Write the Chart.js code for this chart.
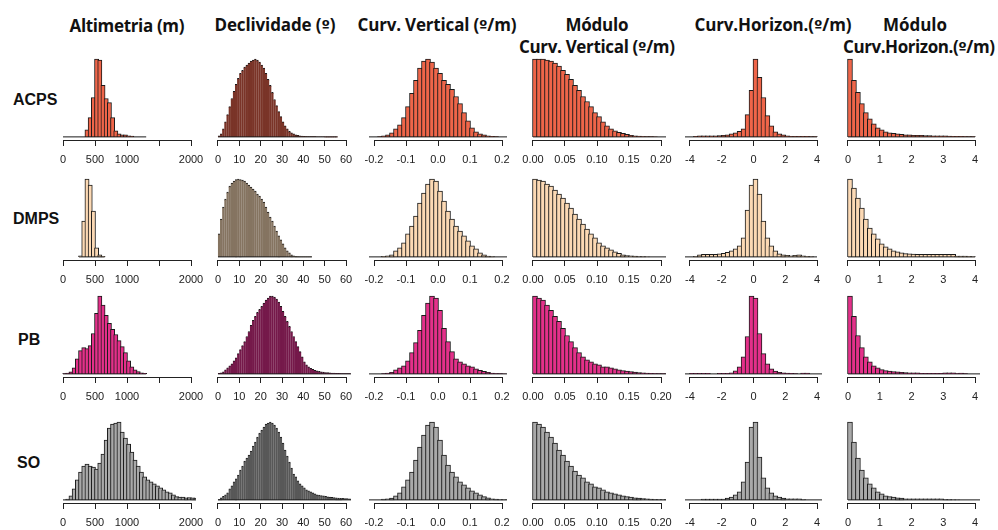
<!DOCTYPE html>
<html><head><meta charset="utf-8">
<script src="https://cdn.jsdelivr.net/npm/chart.js@4.4.1/dist/chart.umd.min.js"></script>
<style>
html,body{margin:0;padding:0;background:#fff;}
body{width:998px;height:530px;position:relative;overflow:hidden;}
canvas{position:absolute;}
.t{position:absolute;font-family:'Open Sans',Lato,sans-serif;font-weight:700;font-size:17px;color:#111;white-space:nowrap;line-height:1;}
.t .o{font-family:'DejaVu Sans',sans-serif;font-size:15px;}
.r{position:absolute;font-family:'Liberation Sans',Arial,sans-serif;font-weight:700;font-size:16px;color:#111;white-space:nowrap;transform:translateY(-50%);line-height:1;}
</style></head><body>
<script>
// ---------------- DATA ----------------
const rowNames = ['ACPS','DMPS','PB','SO'];
const columnTitles = [['Altimetria (m)'],['Declividade (º)'],['Curv. Vertical (º/m)'],['Módulo','Curv. Vertical (º/m)'],['Curv.Horizon.(º/m)'],['Módulo','Curv.Horizon.(º/m)']];

// tick values and labels per column
const altTicks = [0,500,1000,1500,2000];     const altTickLabels = ['0','500','1000','','2000'];
const declTicks = [0,10,20,30,40,50,60];     const declTickLabels = ['0','10','20','30','40','50','60'];
const cvTicks = [-0.2,-0.1,0,0.1,0.2];       const cvTickLabels = ['-0.2','-0.1','0.0','0.1','0.2'];
const mcvTicks = [0,0.05,0.1,0.15,0.2];      const mcvTickLabels = ['0.00','0.05','0.10','0.15','0.20'];
const chTicks = [-4,-2,0,2,4];               const chTickLabels = ['-4','-2','0','2','4'];
const mchTicks = [0,1,2,3,4];                const mchTickLabels = ['0','1','2','3','4'];

// histogram bin widths and first-bin starts (per row)
const altBinW = 50;      const altStarts = [0,250,0,0];
const declBinW = 1;      const declStarts = [0,0,0,0];
const cvBinW = 0.0125;   const cvStarts = [-0.25,-0.25,-0.25,-0.25];
const mcvBinW = 0.00625; const mcvStarts = [0,0,0,0];
const chBinW = 0.25;     const chStarts = [-4.5,-4.5,-4.5,-4.5];
const mchBinW = 0.125;   const mchStarts = [0,0,0,0];

// bin heights (relative frequencies)
const alt_ACPS = [0,0,0,0,0,0,0,7,19,39,77,76,51,38,34,19,6,3,2,2,1,0.7,0,0,0,0];
const alt_DMPS = [1,36,78,72,46,9,2,0.5];
const alt_PB   = [0.3,0.7,2,6,15,23,26,25,28,40,60,77,68,58,50,44,39,33,27,21,13,7,4,2.3,1,0.5];
const alt_SO   = [0,0.7,4,11,20,28,34,36,34,33,31,37,46,60,72,76,77,78,68,62,56,48,40,34,28,23,20,18,16,14,12,10,8,7,5,3.3,2.7,2.7,2,2.3,2,1.7,1.5,1];

const decl_ACPS = [1,3,8,15,22,30,38,45,52,58,63,66,69,71,73,75,76,77,76,74,71,68,63,57,51,44,37,31,25,20,15,11,8,5.5,4,3,2,1.5,1,0.8,0.5,0.4,0.3,0.2,0.2,0.2,0.1,0.1,0.1,0.1,0,0,0,0,0,0];
const decl_DMPS = [23,38,50,58,65,71,74,76,77.5,78,77.5,77,76,74,72,70,68,66,63,61,58,55,50,45,40,36,31,26,21,17,13,9,6,4,2,1,0.5,0.4,0.3,0.3,0.2,0.2,0.2,0.2];
const decl_PB   = [0.5,1,2,4,6,8,10,13,16,20,24,28,32,37,42,48,53,57,61,64,67,70,73,75,77,77,76,74,71,67,62,57,52,47,42,37,32,27,22,17,12,9,7,5.5,4.5,3.5,3,2.5,2,1.7,1.4,1.2,1,0.8,0.7,0.6,0.5,0.4,0.3,0.3,0.2,0.2,0.1,0.1];
const decl_SO   = [0.5,2,3.5,5,7,11,14,18,21,25,30,34,39,42,45,49,54,58,63,67,70,73,76,77,78,77,75,72,68,63,57,50,44,38,32,26,23,19,16,14,12,10,9,8,7,6,5,4.7,4.3,4,3.5,3,2.7,2.5,2.3,2,1.8,1.6,1.5,1.3,1.2,1,1,0.8];

const cv_ACPS = [0,0,0,0, 0,0.3,1,2,4,8,12,19,30,43,56,68,75,77,74,68,63,56,52,47,40,33,24,16,9,5,3,2,1,0.5,0.3,0, 0,0,0,0];
const cv_DMPS = [0,0,0,0, 0,0,0.5,1,2,6,9,14,23,31,41,54,64,73,78,76,66,56,46,38,31,26,21,16,11,8,4,2,0.7,0.3,0,0, 0,0,0,0];
const cv_PB   = [0,0,0,0, 0,0,0.3,0.7,1.5,4,6,8,13,21,31,43,58,70,77,75,63,45,32,22,15,12,10,8,7,5,3.5,2.5,1.5,0.8,0.4,0.2, 0.1,0,0,0];
const cv_SO   = [0,0,0,0, 0,0,0.7,1,1.7,4,7,13,20,28,40,53,65,75,78,73,60,45,35,28,23,18,15,12,9,7,5,3.3,2,1,0.7,0.3, 0.2,0,0,0];

const mcv_ACPS = [77,77,77,76,75,73,70,66,62,57,51,46,40,35,30,24,20,15,11,8,6,4.5,3.5,2.5,1.5,1,0.7,0.4,0.2,0.2,0.1,0,0,0,0,0];
const mcv_DMPS = [78,77,76,73,71,67,63,59,54,49,43,38,33,28,23,19,14,11,9,7,5,3.5,2,1.3,1,0.7,0.3,0.2,0.1,0,0,0,0,0,0,0];
const mcv_PB   = [77,75,73,68,63,57,52,45,38,32,26,21,17,14,12,10,9,7,7,6,5,4,3.3,2.7,2.3,1.7,1.3,1,0.7,0.5,0.4,0.3,0.2,0.1,0,0];
const mcv_SO   = [78,76,73,68,63,57,50,45,39,34,29,25,22,18,16,13,12,10,8,7,6,5,4,3.3,2.7,2,1.7,1.3,1,0.7,0.5,0.4,0.3,0.2,0.1,0.1];

const ch_ACPS = [0,0, 0,0.5,1,1,1,1,1,1.2,1.5,2,3,4,5.5,8,22,46,77,59,39,21,11,5,3,2,1,0.5,0.5,0.5,0.5,0.5,0.3,0.3];
const ch_DMPS = [0,0, 0,0.5,2,2.5,2.5,2.5,2.5,3,3.5,4.5,6,8,11,19,47,72,78,63,36,19,11,6,3,2,1.5,1,1.5,2,1,0.5,0.3,0];
const ch_PB   = [0,0, 0.5,0.5,0.5,0.5,0.5,0,0,0.5,0.5,0.5,1,3,7,17,37,77,75,40,20,10,5,2.7,1.5,1,0.8,0.5,0.3,0,0.7,0.7,0,0,0,0];
const ch_SO   = [0,0, 0,0,0,0.7,0.7,0.7,0.7,0.7,0.7,1.7,2.7,5,8,18,38,73,78,43,22,12,7,4,2.7,1.7,1,1,1,1,0.3,0,0,0,0,0];

const mch_ACPS = [77,56,44,33,24,18,13,9,7,5,4,3.5,3,2.5,2,2,1.5,1.5,1.5,1.2,1.2,1,1,1,1,0.8,0.5,0.5,0.5,0.4,0.3,0.3];
const mch_DMPS = [78,69,59,49,38,29,23,18,13,10,8,6,5,4,3.3,3,2.7,2.5,2.5,2.5,2.5,2.5,2.5,2.5,2.5,2.5,2.5,0.7,0.7,0.7,0.5,0.3];
const mch_PB   = [77,57,38,26,17,12,8,6,4.3,3.3,2.7,2.3,2,1.5,1.2,1,1,1,0.5,0.5,0.5,0.5,0.5,0.5,1,1,1,0.4,0.7,0.2,0,0,0,0];
const mch_SO   = [78,58,42,30,22,16,12,8,6,4,3.3,2.7,2,1.7,1,1,1,1,1,1,1,1,1,1,0.2,0.2,0.1,0.1,0,0,0,0,0,0];

// ---------------- STYLE / LAYOUT ----------------
const rowColors = ['#ef6549','#fcd9b4','#e4308a','#a9a9a9'];
const denseRowColors = ['#7a3428','#857461','#75194a','#585858']; // look of the very thin (1°) bins
const COL_AXIS = [[63,191],[218,346],[374,502],[533,661],[690,817],[848,975]]; // pixel of first/last tick
const ROW_AREA = [[56,140],[176,260],[293,377],[419,503]];                     // plot top / axis line
const TITLE_POS = [[[127,25]],[[275,25]],[[437,25]],[[597,24],[597,47]],[[773,25]],[[915,24],[919,47]]];
const TITLE_W = [[115],[121],[159],[63,156],[157],[64,152]];
const ROW_LABEL_POS = [[13,100],[13,219],[18,340],[17,463]];
const PADX = 18, PADT = 4, AXH = 30;

const columns = [
  {ticks:altTicks, labels:altTickLabels, binW:altBinW, starts:altStarts, data:[alt_ACPS,alt_DMPS,alt_PB,alt_SO]},
  {ticks:declTicks, labels:declTickLabels, binW:declBinW, starts:declStarts, data:[decl_ACPS,decl_DMPS,decl_PB,decl_SO], dense:true},
  {ticks:cvTicks, labels:cvTickLabels, binW:cvBinW, starts:cvStarts, data:[cv_ACPS,cv_DMPS,cv_PB,cv_SO]},
  {ticks:mcvTicks, labels:mcvTickLabels, binW:mcvBinW, starts:mcvStarts, data:[mcv_ACPS,mcv_DMPS,mcv_PB,mcv_SO]},
  {ticks:chTicks, labels:chTickLabels, binW:chBinW, starts:chStarts, data:[ch_ACPS,ch_DMPS,ch_PB,ch_SO]},
  {ticks:mchTicks, labels:mchTickLabels, binW:mchBinW, starts:mchStarts, data:[mch_ACPS,mch_DMPS,mch_PB,mch_SO]},
];

// titles and row labels as HTML text (º set in a font whose glyph carries the underline)
columnTitles.forEach((lines, c) => {
  lines.forEach((txt, k) => {
    const d = document.createElement('div');
    d.className = 't';
    txt.split('º').forEach((part, j) => {
      if (j > 0) { const s = document.createElement('span'); s.className = 'o'; s.textContent = 'º'; d.appendChild(s); }
      d.appendChild(document.createTextNode(part));
    });
    document.body.appendChild(d);
    const nat = d.getBoundingClientRect().width;
    const ls = (TITLE_W[c][k] - nat) / Math.max(1, txt.length - 1);
    d.style.letterSpacing = ls.toFixed(2) + 'px';
    const w2 = d.getBoundingClientRect().width - ls;
    const h = d.getBoundingClientRect().height;
    d.style.left = (TITLE_POS[c][k][0] - w2 / 2) + 'px';
    d.style.top = (TITLE_POS[c][k][1] - h / 2) + 'px';
  });
});
rowNames.forEach((txt, r) => {
  const d = document.createElement('div');
  d.className = 'r'; d.textContent = txt;
  d.style.left = ROW_LABEL_POS[r][0] + 'px'; d.style.top = ROW_LABEL_POS[r][1] + 'px';
  document.body.appendChild(d);
});

// R-style axis line: from first to last tick only
const axisLinePlugin = {
  id: 'axisLine',
  afterDraw(chart) {
    const s = chart.scales.x, t = s.ticks;
    const xa = Math.round(s.getPixelForValue(t[0].value) - 0.5);
    const xb = Math.round(s.getPixelForValue(t[t.length - 1].value) - 0.5) + 1;
    const y = Math.round(s.top) + 0.5;
    const ctx = chart.ctx;
    ctx.save();
    ctx.strokeStyle = '#222'; ctx.lineWidth = 1;
    ctx.beginPath(); ctx.moveTo(xa, y); ctx.lineTo(xb, y); ctx.stroke();
    ctx.restore();
  }
};

columns.forEach((col, c) => {
  const [x0, x1] = COL_AXIS[c];
  const spanPx = x1 - x0;
  const aL = x0 - 0.04 * spanPx, aR = x1 + 0.04 * spanPx;
  const tA = col.ticks[0], tB = col.ticks[col.ticks.length - 1];
  const ext = 0.04 * (tB - tA);
  const xmin = tA - ext, xmax = tB + ext;
  const pxPerUnit = (aR - aL) / (xmax - xmin);

  rowNames.forEach((rn, r) => {
    const counts = col.data[r];
    const start = col.starts[r];
    const w = col.binW;
    const M = Math.max(...counts);
    const [T, B] = ROW_AREA[r];
    const cl = Math.floor(aL) - PADX;
    const cw = Math.ceil(aR) + PADX - cl;
    const ct = T - PADT;
    const chh = (B - T) + PADT + AXH;

    const cv = document.createElement('canvas');
    cv.width = cw; cv.height = chh;
    cv.style.left = cl + 'px'; cv.style.top = ct + 'px';
    cv.style.width = cw + 'px'; cv.style.height = chh + 'px';
    document.body.appendChild(cv);

    const bars = counts.map((v, i) => ({x: start + (i + 0.5) * w, y: v}));
    const base = [{x: start, y: 0}, {x: start + counts.length * w, y: 0}];
    const barStyle = col.dense
      ? {backgroundColor: denseRowColors[r], borderColor: '#1a1a1a', borderWidth: {top: 1, left: 0, right: 0, bottom: 0}, barThickness: w * pxPerUnit + 0.2}
      : {backgroundColor: rowColors[r], borderColor: '#1a1a1a', borderWidth: 1, barThickness: w * pxPerUnit + 1};

    new Chart(cv, {
      type: 'bar',
      data: {
        datasets: [
          {type: 'line', data: base, borderColor: '#1a1a1a', borderWidth: 1, pointRadius: 0, fill: false, clip: 0, order: 0},
          Object.assign({type: 'bar', data: bars, borderSkipped: 'start', clip: 0, order: 1}, barStyle)
        ]
      },
      options: {
        responsive: false, animation: false, devicePixelRatio: 1,
        layout: {padding: {left: aL - cl, right: cl + cw - aR, top: PADT, bottom: 0}},
        plugins: {legend: {display: false}, tooltip: {enabled: false}},
        events: [],
        scales: {
          x: {
            type: 'linear', min: xmin, max: xmax, offset: false,
            afterBuildTicks: s => { s.ticks = col.ticks.map(v => ({value: v})); },
            afterFit: s => { s.height = AXH; s.paddingLeft = 0; s.paddingRight = 0; },
            ticks: {
              callback: (v, i) => col.labels[i],
              autoSkip: false, maxRotation: 0, minRotation: 0, padding: 7,
              color: '#222', font: {family: "'Liberation Sans', Arial, sans-serif", size: 11}
            },
            grid: {display: true, drawOnChartArea: false, drawTicks: true, tickLength: 6, color: '#222', lineWidth: 1, offset: false},
            border: {display: false}
          },
          y: {display: false, min: -0.04 * M, max: 1.04 * M}
        }
      },
      plugins: [axisLinePlugin]
    });
  });
});
</script>
</body></html>
